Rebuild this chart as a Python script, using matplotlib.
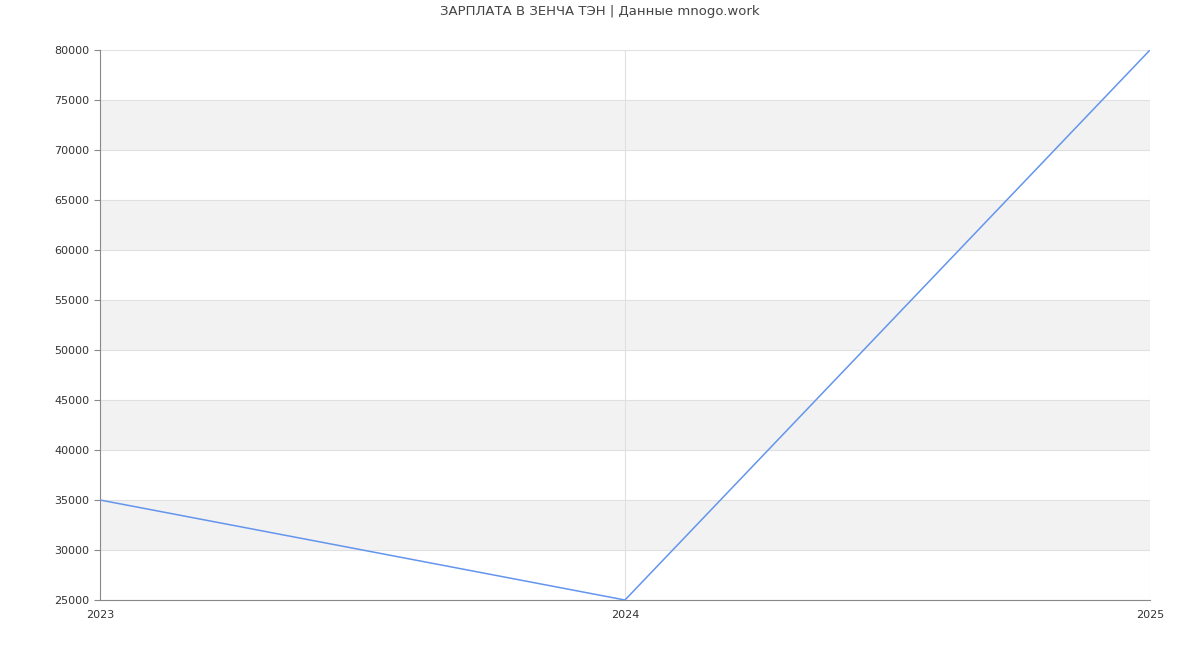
import matplotlib
matplotlib.use("Agg")
from matplotlib import pyplot as plt

years = [2023, 2024, 2025]
salary = [35000, 25000, 80000]
y_ticks = list(range(25000, 80001, 5000))
title = "ЗАРПЛАТА В ЗЕНЧА ТЭН | Данные mnogo.work"

plt.rcParams["font.family"] = ["DejaVu Sans"]

fig = plt.figure(figsize=(12, 6.5), dpi=100)
ax = fig.add_axes([100 / 1200, 50 / 650, 1050 / 1200, 550 / 650])

# alternating bands
for lo in range(30000, 80000, 10000):
    ax.axhspan(lo, lo + 5000, color="#f2f2f2", zorder=0, lw=0)

for y in y_ticks:
    ax.axhline(y, color="#e0e0e0", lw=0.8, zorder=1)
for x in years[1:]:
    ax.axvline(x, color="#e0e0e0", lw=0.8, zorder=1)

ax.plot(years, salary, color="#6495ed", lw=1.1, zorder=3)

ax.set_xlim(2023, 2025)
ax.set_ylim(25000, 80000)
ax.set_xticks(years)
ax.set_xticklabels([str(y) for y in years])
ax.set_yticks(y_ticks)
ax.tick_params(axis="both", labelsize=8, colors="#333333", length=4, width=0.8)
ax.tick_params(axis="x", length=0, pad=7)
ax.tick_params(axis="y", color="#888888")

for side in ["top", "right"]:
    ax.spines[side].set_visible(False)
for side in ["left", "bottom"]:
    ax.spines[side].set_color("#888888")
    ax.spines[side].set_linewidth(0.8)

fig.text(0.5, 1 - 12 / 650, title, ha="center", va="center", fontsize=9.5, color="#444444")

fig.savefig("out.png", dpi=100)
